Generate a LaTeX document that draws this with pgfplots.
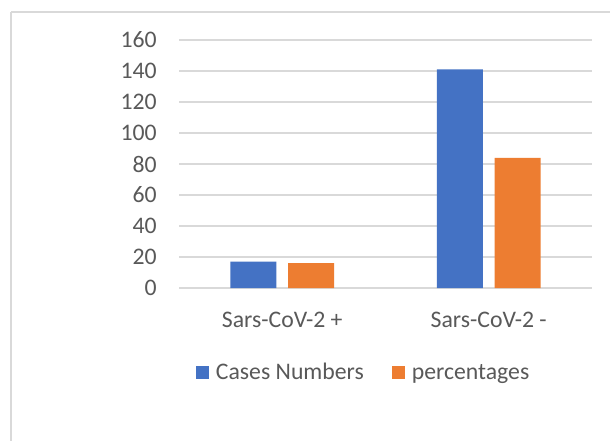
\documentclass[border=0pt]{standalone}
\usepackage{pgfplots}
\pgfplotsset{compat=1.18}
\usepackage{fontspec}
\setmainfont{Carlito}
\definecolor{cblue}{HTML}{4472C4}
\definecolor{corange}{HTML}{ED7D31}
\definecolor{cgrid}{HTML}{D9D9D9}
\definecolor{ctext}{HTML}{595959}
\begin{document}
\begin{tikzpicture}
\useasboundingbox (0,0) rectangle (457.5pt,330pt);
\fill[white] (0,0) rectangle (457.5pt,330pt);
\draw[cgrid, line width=1.2pt] (8.25pt,321pt) -- (470pt,321pt);
\draw[cgrid, line width=1.2pt] (8.25pt,321pt) -- (8.25pt,-10pt);
\begin{axis}[
  at={(134.25pt,114pt)}, anchor=south west,
  scale only axis, width=309.75pt, height=186pt,
  ybar, bar width=34.5pt, ybar=8.7pt,
  xmin=-0.5, xmax=1.5, ymin=0, ymax=160,
  xtick={0,1}, xticklabels={Sars-CoV-2 +, Sars-CoV-2 -},
  ytick={0,20,...,160},
  xtick pos=bottom, ytick pos=left,
  axis line style={draw=none},
  ymajorgrids, grid style={cgrid, line width=0.9pt},
  major tick length=0pt,
  clip=false,
  /pgf/number format/assume math mode=true,
  tick label style={font=\fontsize{17.8}{20}\selectfont, text=ctext},
  xticklabel style={anchor=base, yshift=-29.25pt, inner sep=0pt},
  yticklabel style={anchor=east, xshift=-16.5pt, inner sep=0pt},
  legend columns=2,
  legend style={at={(0.041,-0.3407)}, anchor=west, draw=none, fill=none,
    inner sep=0pt, outer sep=0pt,
    font=\fontsize{17.8}{20}\selectfont, text=ctext,
    nodes={inner sep=0pt},
    /tikz/every odd column/.append style={column sep=5.25pt},
    /tikz/every even column/.append style={column sep=21pt}},
  legend image code/.code={\fill[#1] (0pt,-4.875pt) rectangle (9.75pt,4.875pt);},
]
\draw[cgrid, line width=0.9pt] (rel axis cs:0,0) -- (rel axis cs:1,0);
\addplot[fill=cblue, draw=none] coordinates {(0,17) (1,141)};
\addplot[fill=corange, draw=none] coordinates {(0,16) (1,84)};
\legend{Cases Numbers, percentages}
\end{axis}
\end{tikzpicture}
\end{document}
